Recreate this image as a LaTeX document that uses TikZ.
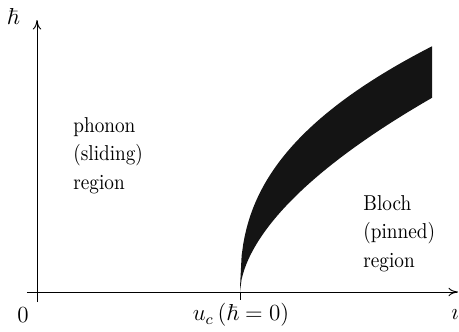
\documentclass[tikz,border=0pt]{standalone}
\usepackage{amsmath}
\usepackage{amssymb}
\usepackage{graphicx}
\usepackage{tikz}
\usetikzlibrary{positioning,arrows.meta}
\newcommand{\tallbox}[1]{\scalebox{1}[1.12]{\renewcommand{\arraystretch}{1.1}\begin{tabular}{@{}l@{}}#1\end{tabular}}}

\begin{document}
\begin{tikzpicture}[
  x=0.52pt, y=0.52pt,
  axis/.style={-{To[length=5pt,width=4.5pt]}, line width=0.5pt},
  band/.style={fill=black!92, draw=none},
  lbl/.style={font=\large, inner sep=0pt},
  blk/.style={font=\normalsize, inner sep=0pt, anchor=west},
]
\useasboundingbox (-37,-39) rectangle (422,292);
% ---------- axes ----------
\coordinate (xs) at (-10,0);
\coordinate (xe) at (421,0);
\coordinate (ys) at (0,-10);
\coordinate (ye) at (0,272);
\draw[axis] (xs) -- (xe);
\draw[axis] (ys) -- (ye);
\coordinate (uc) at (203,0);
\draw[line width=0.5pt] (uc) -- ++(0,-8);
% ---------- band (upper ~ dx^0.4, lower ~ dx^0.57) ----------
\fill[band] (uc)
  -- plot[domain=0.01:192, samples=120] ({203+\x},{30*\x^0.4})
  -- plot[domain=192:0.01, samples=120] ({203+\x},{9.7*\x^0.57})
  -- cycle;
% ---------- labels ----------
\node[lbl] (hb) at (-24,275) {$\hbar$};
\node[lbl] (zero) at (-14,-23) {$0$};
\node[lbl] (ucl) at (204,-23) {$u_c\,(\hbar=0)$};
\node[lbl] (iota) at (418,-23) {$\imath$};
\node[blk] (phon) at (36,137) {\tallbox{phonon\\(sliding)\\region}};
\node[blk] (bloch) at (326,59) {\tallbox{Bloch\\(pinned)\\region}};
\end{tikzpicture}
\end{document}
